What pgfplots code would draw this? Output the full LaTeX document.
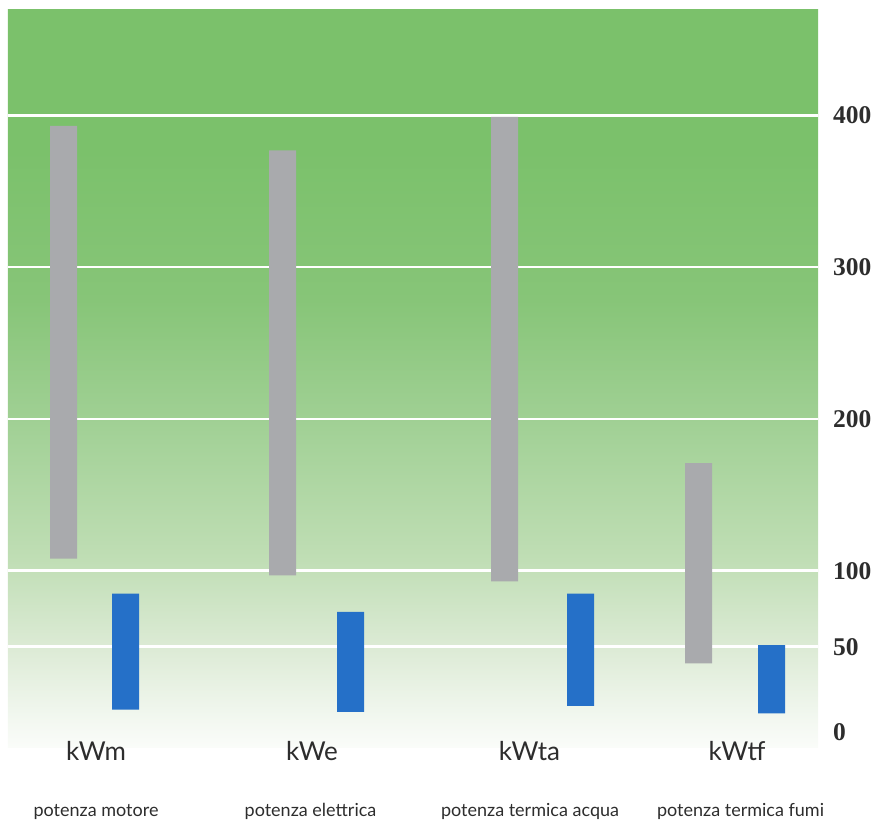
\documentclass[border=0pt]{standalone}
\usepackage{fontspec}
\setmainfont{Lato}
\newfontfamily\numfont{Liberation Serif}
\usepackage{pgfplots}
\usepackage{pgfplotstable}
\pgfplotsset{compat=1.18}

\definecolor{gtop}{RGB}{123,193,107}
\definecolor{c5}{RGB}{135,197,120}
\definecolor{c4}{RGB}{160,208,148}
\definecolor{c3}{RGB}{192,222,181}
\definecolor{c2}{RGB}{221,235,214}
\definecolor{c1}{RGB}{243,248,241}
\definecolor{c0}{RGB}{250,252,249}
\definecolor{barGray}{RGB}{169,170,173}
\definecolor{barBlue}{RGB}{37,112,200}
\definecolor{txt}{RGB}{45,45,45}

\pgfdeclareverticalshading{bgshade}{100bp}{color(0bp)=(c0); color(25bp)=(c0); color(26.8bp)=(c1); color(31.6bp)=(c2); color(37.7bp)=(c3); color(47.2bp)=(c4); color(55.3bp)=(c5); color(65.5bp)=(gtop); color(100bp)=(gtop)}

% x = horizontal position (px), lo/hi = range of the bar, kind 1 = grey, 0 = blue
\pgfplotstableread{
x     lo    hi   kind
63.5  108   393  1
125.5 8.5   85   0
282.5 97    377  1
350.5 7     73   0
504.5 93    399  1
580.5 11    85   0
698.5 39    171  1
771.5 6     51   0
}\ranges

\begin{document}
\begin{tikzpicture}
\useasboundingbox (0,0) rectangle (877pt,822pt);
\begin{axis}[
  at={(8pt,75pt)}, anchor=south west,
  scale only axis, width=810pt, height=737pt,
  xmin=8, xmax=818, ymin=-16.07, ymax=469.4,
  axis line style={draw=none},
  axis background/.style={shading=bgshade},
  major tick length=0pt,
  xtick=\empty,
  ytick={50,100,200,300,400},
  ymajorgrids,
  grid style={white, line width=2.6pt},
  yticklabel pos=right,
  /pgf/number format/assume math mode=true,
  yticklabel style={anchor=west, inner sep=0pt, xshift=15pt,
    font=\fontsize{25.5}{26}\selectfont\numfont\bfseries, text=txt},
  extra y ticks={0},
  extra y tick style={grid=none, yticklabel style={yshift=-10pt}},
  ybar stacked, bar width=27,
  clip=false,
]
\addplot[draw=none, fill=none] table[x=x, y=lo] {\ranges};
\addplot[draw=none, fill=barGray] table[x=x, y expr={\thisrow{kind}*(\thisrow{hi}-\thisrow{lo})}] {\ranges};
\addplot[draw=none, fill=barBlue] table[x=x, y expr={(1-\thisrow{kind})*(\thisrow{hi}-\thisrow{lo})}] {\ranges};
\end{axis}
\begin{scope}[every node/.style={anchor=base, text=txt, inner sep=0pt}]
\node[font=\fontsize{26}{26}\selectfont] at (96pt,61.5pt) {kWm};
\node[font=\fontsize{26}{26}\selectfont] at (312pt,61.5pt) {kWe};
\node[font=\fontsize{26}{26}\selectfont] at (529.5pt,61.5pt) {kWta};
\node[font=\fontsize{26}{26}\selectfont] at (737pt,61.5pt) {kWtf};
\node[font=\fontsize{18}{18}\selectfont] at (96pt,6pt) {potenza motore};
\node[font=\fontsize{18}{18}\selectfont] at (310.5pt,6pt) {potenza elettrica};
\node[font=\fontsize{18}{18}\selectfont] at (530pt,6pt) {potenza termica acqua};
\node[font=\fontsize{18}{18}\selectfont] at (740.5pt,6pt) {potenza termica fumi};
\end{scope}
\end{tikzpicture}
\end{document}
